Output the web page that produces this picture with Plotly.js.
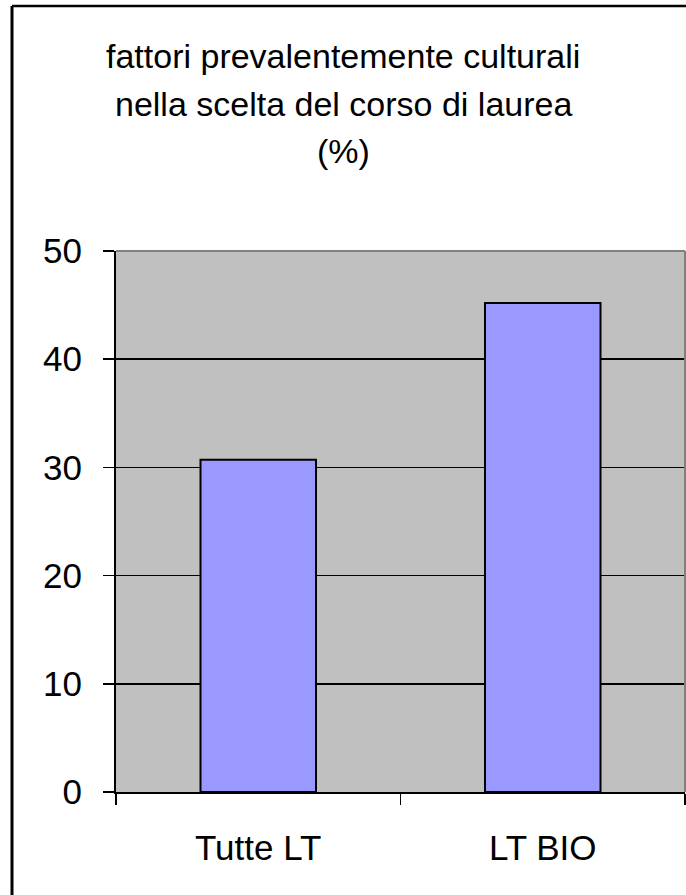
<!DOCTYPE html>
<html>
<head>
<meta charset="utf-8">
<script src="https://cdn.plot.ly/plotly-3.0.1.min.js"></script>
<style>html,body{margin:0;padding:0;background:#fff;}</style>
</head>
<body>
<div id="chart" style="width:686px;height:895px;"></div>
<script>
const categories = ["Tutte LT", "LT BIO"];
const values = [30.7, 45.2];
const titleLines = ["fattori prevalentemente culturali", "nella scelta del corso di laurea", "(%)"];
const yTicks = [0, 10, 20, 30, 40, 50];

const FONT = "Arial, 'Liberation Sans', sans-serif";
// pixel helpers (plot area: x 116..685, y 251..792)
const L = 116, R = 685, T = 251, B = 792;
const px = X => (X - L) / (R - L);
const py = Y => (B - Y) / (B - T);

const titleCenters = [56, 104, 151];

const trace = {
  type: "bar",
  x: categories,
  y: values,
  marker: { color: "#9999FF", line: { color: "#000000", width: 2 } },
  hoverinfo: "x+y"
};

const layout = {
  width: 686,
  height: 895,
  margin: { l: L, r: 686 - R, t: T, b: 895 - B, pad: 0 },
  paper_bgcolor: "#FFFFFF",
  plot_bgcolor: "#C0C0C0",
  showlegend: false,
  bargap: 0.594,
  font: { family: FONT, color: "#000000", size: 34 },
  xaxis: {
    type: "category",
    range: [-0.5, 1.5],
    tickson: "boundaries",
    ticks: "outside",
    ticklen: 11,
    tickwidth: 1.5,
    tickcolor: "#000000",
    showline: true,
    linecolor: "#000000",
    linewidth: 2,
    showgrid: false,
    zeroline: false,
    tickfont: { family: FONT, size: 35, color: "#000000" },
    ticklabelstandoff: 24
  },
  yaxis: {
    range: [0, 50],
    tickvals: yTicks,
    ticktext: yTicks.map(String),
    ticks: "outside",
    ticklen: 11,
    tickwidth: 1.5,
    tickcolor: "#000000",
    showline: true,
    linecolor: "#000000",
    linewidth: 2,
    showgrid: true,
    gridcolor: "#000000",
    gridwidth: 1.5,
    zeroline: false,
    tickfont: { family: FONT, size: 35, color: "#000000" },
    ticklabelstandoff: 14
  },
  annotations: titleLines.map((t, i) => ({
    text: t,
    xref: "paper", yref: "paper",
    x: px(343), y: py(titleCenters[i]),
    xanchor: "center", yanchor: "middle",
    showarrow: false,
    font: { family: FONT, size: 34, color: "#000000" }
  })),
  shapes: [
    { type: "line", xref: "paper", yref: "paper", x0: 0, x1: 1, y0: 1, y1: 1,
      line: { color: "#808080", width: 2 }, layer: "above" },
    { type: "line", xref: "paper", yref: "paper", x0: 1, x1: 1, y0: 0, y1: 1,
      line: { color: "#808080", width: 2 }, layer: "above" },
    { type: "line", xref: "paper", yref: "paper", x0: px(12), x1: px(700), y0: py(6), y1: py(6),
      line: { color: "#000000", width: 2.5 }, layer: "above" },
    { type: "line", xref: "paper", yref: "paper", x0: px(12), x1: px(12), y0: py(6), y1: py(910),
      line: { color: "#000000", width: 3 }, layer: "above" }
  ]
};

Plotly.newPlot("chart", [trace], layout, { displayModeBar: false, staticPlot: true });
</script>
</body>
</html>
